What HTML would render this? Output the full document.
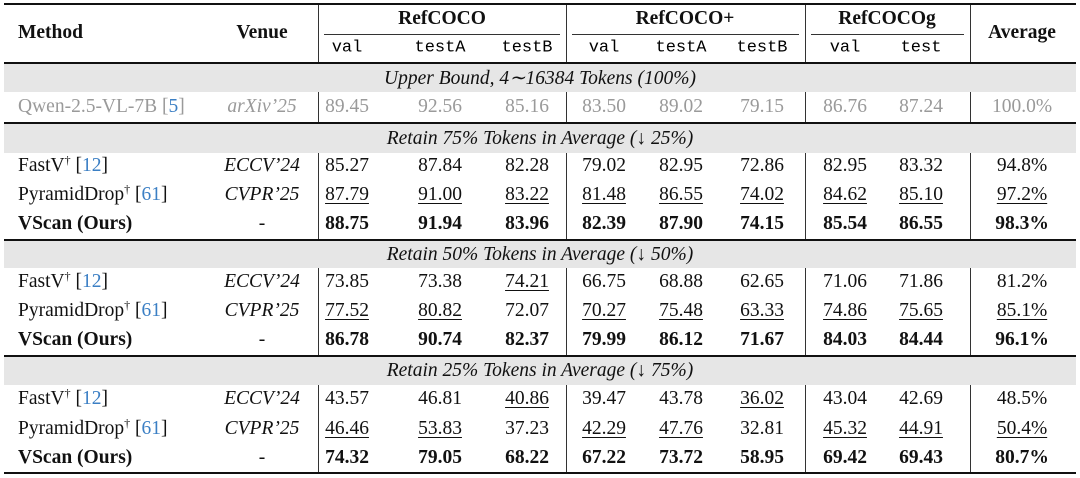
<!DOCTYPE html>
<html><head><meta charset="utf-8">
<style>
body{margin:0;width:1080px;height:478px;background:#fff;position:relative;overflow:hidden;font-family:"Liberation Serif",serif;color:#111}
.a{position:absolute}
.t{position:absolute;white-space:nowrap;font-size:19.5px;transform:translate(-50%,-50%)}
.l{transform:translate(0,-50%)}
.m{font-family:"Liberation Mono",monospace;font-size:17px;color:#000}
.b{font-weight:bold}
.i{font-style:italic}
.u{text-decoration:underline;text-underline-offset:3px;text-decoration-thickness:1px}
.g{color:#9a9a9a}
.ref{color:#3b7fc4}
sup{font-size:12px;line-height:0;vertical-align:7px}
.band{position:absolute;left:4px;width:1072px;background:#e6e6e6}
.rule{position:absolute;left:4px;width:1072px;background:#111}
.v{position:absolute;width:1px;background:#333}
</style></head><body>
<div id="root"></div>
<script>
const cols=[347,440,527,604,681,762,845,921,1022];
const sections=["Upper Bound, 4∼16384 Tokens (100%)","Retain 75% Tokens in Average (↓ 25%)","Retain 50% Tokens in Average (↓ 50%)","Retain 25% Tokens in Average (↓ 75%)"];
const qwen=["89.45","92.56","85.16","83.50","89.02","79.15","86.76","87.24","100.0%"];
const fastv=[["85.27","87.84","82.28","79.02","82.95","72.86","82.95","83.32","94.8%"],["73.85","73.38","74.21","66.75","68.88","62.65","71.06","71.86","81.2%"],["43.57","46.81","40.86","39.47","43.78","36.02","43.04","42.69","48.5%"]];
const fastvU=[[],[2],[2,5]];
const pyr=[["87.79","91.00","83.22","81.48","86.55","74.02","84.62","85.10","97.2%"],["77.52","80.82","72.07","70.27","75.48","63.33","74.86","75.65","85.1%"],["46.46","53.83","37.23","42.29","47.76","32.81","45.32","44.91","50.4%"]];
const pyrU=[[0,1,2,3,4,5,6,7,8],[0,1,3,4,5,6,7,8],[0,1,3,4,6,7,8]];
const vs=[["88.75","91.94","83.96","82.39","87.90","74.15","85.54","86.55","98.3%"],["86.78","90.74","82.37","79.99","86.12","71.67","84.03","84.44","96.1%"],["74.32","79.05","68.22","67.22","73.72","58.95","69.42","69.43","80.7%"]];
const root=document.getElementById('root');
function el(cls,name,html,x,y,w,h){const d=document.createElement('div');d.className=cls;if(html!=null)d.innerHTML=html;d.style.left=x+'px';d.style.top=y+'px';if(w!=null)d.style.width=w+'px';if(h!=null)d.style.height=h+'px';


root.appendChild(d);return d;}
el('rule','top-rule',null,4,3,null,2);
el('rule','header-rule',null,4,62,null,2);
el('rule','section-rule-1',null,4,122,null,2);
el('rule','section-rule-2',null,4,239,null,2);
el('rule','section-rule-3',null,4,355,null,2);
el('rule','bottom-rule',null,4,472,null,2);
[[318,566],[566,805],[805,970]].forEach((s,k)=>el('a','group-cline-'+k,null,s[0]+6,34,s[1]-s[0]-12,1).style.background='#333');
const bandY=[[64,28],[124,29],[241,27],[357,28]];
bandY.forEach((b,k)=>{el('band','section-band-'+k,null,4,b[0],null,b[1]);el('t i','section-title-'+k,sections[k],540,b[0]+b[1]/2);});
const vx=[318,566,805,970];
const vseg=[[5,62],[92,122],[153,239],[268,355],[385,472]];
vx.forEach((x,i)=>vseg.forEach((s,j)=>el('v','vline-'+i+'-'+j,null,x,s[0],null,s[1]-s[0])));
el('t l b','method-header','Method',18,33);
el('t b','venue-header','Venue',262,33);
el('t b','refcoco-header','RefCOCO',442,19);
el('t b','refcocoplus-header','RefCOCO+',685,19);
el('t b','refcocog-header','RefCOCOg',887,19);
el('t b','average-header','Average',1022,33);
["val","testA","testB","val","testA","testB","val","test"].forEach((s,i)=>el('t m','split-'+i,s,cols[i],48));
function row(name,method,venue,vals,y,cls,und){
 el('t l '+(cls||''),name+'-method',method,18,y);
 el('t '+(cls||''),name+'-venue',venue,262,y);
 vals.forEach((v,i)=>el('t '+(cls||'')+(und&&und.includes(i)?' u':''),name+'-val-'+i,v,cols[i],y));
}
row('qwen','Qwen-2.5-VL-7B [<span class="ref">5</span>]','<i>arXiv’25</i>',qwen,107,'g');
const rowsY=[[166,195,224],[282,311,340],[399,429,458]];
for(let s=0;s<3;s++){
 row('fastv-'+s,'FastV<sup>†</sup> [<span class="ref">12</span>]','<i>ECCV’24</i>',fastv[s],rowsY[s][0],'',fastvU[s]);
 row('pyramiddrop-'+s,'PyramidDrop<sup>†</sup> [<span class="ref">61</span>]','<i>CVPR’25</i>',pyr[s],rowsY[s][1],'',pyrU[s]);
 row('vscan-'+s,'VScan (Ours)','<span style="font-weight:normal">-</span>',vs[s],rowsY[s][2],'b');
}
</script>
</body></html>
